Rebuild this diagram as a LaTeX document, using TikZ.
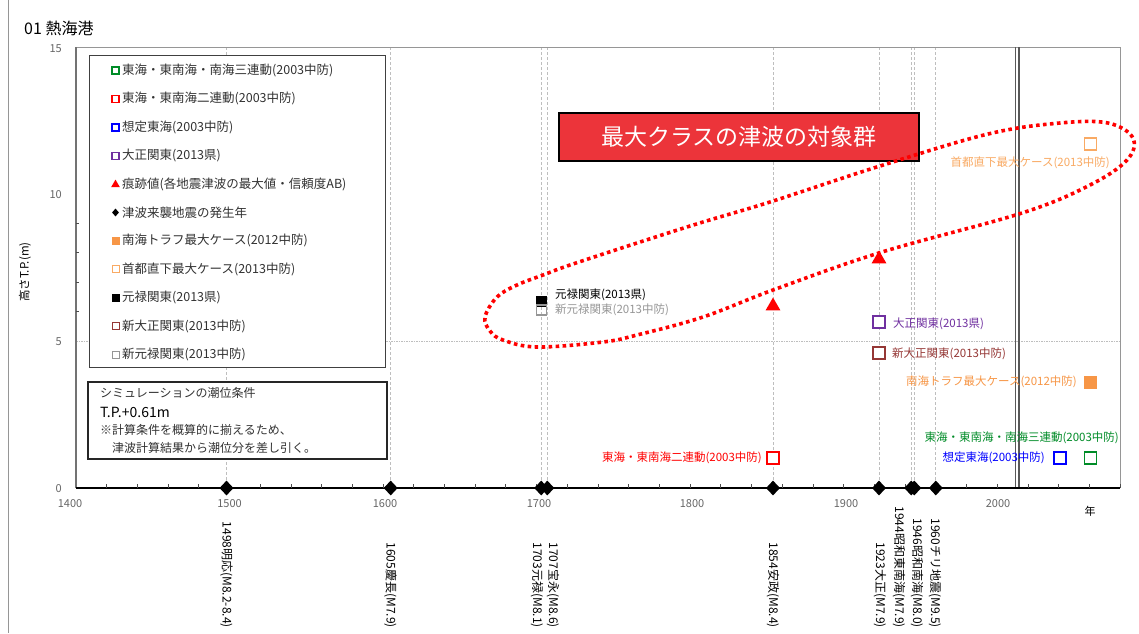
\documentclass[tikz,border=0pt]{standalone}
\usepackage{fontspec}
\setmainfont{Noto Sans CJK JP}
\usetikzlibrary{shapes.geometric}
\definecolor{cgreen}{RGB}{0,140,40}
\definecolor{cred}{RGB}{255,0,0}
\definecolor{cblue}{RGB}{0,0,255}
\definecolor{cpurple}{RGB}{112,48,160}
\definecolor{corange}{RGB}{247,150,70}
\definecolor{clorange}{RGB}{249,170,100}
\definecolor{cbrown}{RGB}{149,55,53}
\definecolor{cgray}{RGB}{150,150,150}
\definecolor{cgrid}{RGB}{190,190,190}
\definecolor{cframe}{RGB}{150,150,150}
\definecolor{cbanner}{RGB}{236,52,58}
\definecolor{ctext}{RGB}{50,50,50}
\newcommand{\fsz}[1]{\fontsize{#1}{#1}\selectfont}
\begin{document}
\begin{tikzpicture}[x=1pt,y=-1pt,
  sqmark/.style={draw, rectangle, minimum size=12pt, inner sep=0pt, line width=1.8pt, fill=white},
  fsqmark/.style={rectangle, minimum size=13pt, inner sep=0pt},
  lsq/.style={draw, rectangle, minimum size=7pt, inner sep=0pt, line width=1.4pt},
  lfsq/.style={rectangle, minimum size=8pt, inner sep=0pt},
  trimark/.style={regular polygon, regular polygon sides=3, fill=cred, inner sep=0pt, minimum size=17pt},
  ltri/.style={regular polygon, regular polygon sides=3, fill=cred, inner sep=0pt, minimum size=10pt},
  dia/.style={diamond, fill=black, inner sep=0pt, minimum width=14pt, minimum height=15pt},
  ldia/.style={diamond, fill=black, inner sep=0pt, minimum width=7pt, minimum height=8pt},
  legtext/.style={anchor=west, inner sep=0pt, font=\fsz{12.5}, text=ctext},
  lab/.style={inner sep=0pt, font=\fsz{11.5}},
  rot/.style={rotate=-90, anchor=east, inner sep=0pt, font=\fsz{12}},
  ticklab/.style={inner sep=0pt, font=\fsz{11}, text=black!60},
  gridv/.style={cgrid, line width=0.8pt, dash pattern=on 3pt off 2pt},
  banner/.style={draw=black, line width=2.5pt, fill=cbanner, text=white, font=\fsz{23},
     minimum width=360pt, minimum height=48pt, inner sep=0pt}
]
\useasboundingbox[fill=white] (0,0) rectangle (1139,633);

% page edge line
\draw[cgray, line width=0.8pt] (8,0) -- (8,633);

% title
\node[anchor=west, inner sep=0pt, font=\fsz{16}] (title) at (24,28) {01 熱海港};

% grid lines
\foreach \xx in {226.5,390.7,541.2,547.3,773,879,911.2,914.3,935.8}
  \draw[gridv] (\xx,47) -- (\xx,488);
\draw[cgrid, line width=0.8pt, dash pattern=on 1.5pt off 1pt] (76,341) -- (1120,341);

% frame
\draw[cframe, line width=1pt] (76,47) -- (1120,47) -- (1120,488);
\draw[black!55, line width=1.2pt] (76,47) -- (76,488);
% double line at 2012
\draw[black!65, line width=1.5pt] (1015.5,47) -- (1015.5,488);
\draw[black!65, line width=1.5pt] (1019,47) -- (1019,488);

% x axis
\draw[black, line width=1.5pt] (76,488) -- (1120,488);
\foreach \t in {1,...,34}
  \draw[black!70, line width=0.8pt] ({76+\t*30.706},488) -- ++(0,-4);
\foreach \v in {6,7,8,9}
  \draw[black!70, line width=0.8pt] (76,{488-29.4*\v}) -- ++(3,0);

% axis labels
\node[ticklab] (x1400) at (70,504) {1400};
\node[ticklab] (x1500) at (229.5,504) {1500};
\node[ticklab] (x1600) at (385,504) {1600};
\node[ticklab] (x1700) at (539,504) {1700};
\node[ticklab] (x1800) at (692,504) {1800};
\node[ticklab] (x1900) at (846,504) {1900};
\node[ticklab] (x2000) at (998,504) {2000};
\node[inner sep=0pt, font=\fsz{11}] (nen) at (1090,511) {年};
\node[ticklab, anchor=east] (y0) at (62,489) {0};
\node[ticklab, anchor=east] (y5) at (62,342) {5};
\node[ticklab, anchor=east] (y10) at (62,195) {10};
\node[ticklab, anchor=east] (y15) at (62,49) {15};
\node[rotate=90, inner sep=0pt, font=\fsz{11.5}] (ylab) at (25,272) {高さT.P.(m)};

% legend box
\draw[black!75, line width=1pt, fill=white] (89,55) rectangle (385,367);
\node[lsq, draw=cgreen] (lm1) at (115.5,70.5) {};
\node[legtext] (lt1) at (122,70.5) {東海・東南海・南海三連動(2003中防)};
\node[lsq, draw=cred] (lm2) at (115.5,98.9) {};
\node[legtext] (lt2) at (122,98.9) {東海・東南海二連動(2003中防)};
\node[lsq, draw=cblue] (lm3) at (115.5,127.3) {};
\node[legtext] (lt3) at (122,127.3) {想定東海(2003中防)};
\node[lsq, draw=cpurple] (lm4) at (115.5,155.7) {};
\node[legtext] (lt4) at (122,155.7) {大正関東(2013県)};
\node[ltri] (lm5) at (115.5,184.6) {};
\node[legtext] (lt5) at (122,184.1) {痕跡値(各地震津波の最大値・信頼度AB)};
\node[ldia] (lm6) at (115.5,212.5) {};
\node[legtext] (lt6) at (122,212.5) {津波来襲地震の発生年};
\node[lfsq, fill=corange] (lm7) at (115.5,240.9) {};
\node[legtext] (lt7) at (122,240.9) {南海トラフ最大ケース(2012中防)};
\node[lsq, draw=clorange, line width=1pt] (lm8) at (115.5,269.3) {};
\node[legtext] (lt8) at (122,269.3) {首都直下最大ケース(2013中防)};
\node[lfsq, fill=black] (lm9) at (115.5,297.7) {};
\node[legtext] (lt9) at (122,297.7) {元禄関東(2013県)};
\node[lsq, draw=cbrown, line width=1pt] (lm10) at (115.5,326.1) {};
\node[legtext] (lt10) at (122,326.1) {新大正関東(2013中防)};
\node[lsq, draw=cgray, line width=0.8pt] (lm11) at (115.5,354.5) {};
\node[legtext] (lt11) at (122,354.5) {新元禄関東(2013中防)};

% condition box
\draw[black!85, line width=1.6pt, fill=white] (88,382) rectangle (387,459);
\node[legtext, font=\fsz{12}] (c1) at (100,393) {シミュレーションの潮位条件};
\node[legtext, font=\fsz{14}, text=black] (c2) at (100,412) {T.P.+0.61m};
\node[legtext, font=\fsz{12}] (c3) at (100,430) {※計算条件を概算的に揃えるため、};
\node[legtext, font=\fsz{12}] (c4) at (100,448) {　津波計算結果から潮位分を差し引く。};

% earthquake year diamonds
\foreach \xx/\nm in {226.5/d1498,390.7/d1605,541.2/d1703,547.3/d1707,773/d1854,879/d1923,911.2/d1944,914.3/d1946,935.8/d1960}
  \node[dia] (\nm) at (\xx,488) {};

% rotated labels
\node[rot] (r1498) at (226.5,628) {1498明応(M8.2-8.4)};
\node[rot] (r1605) at (390.5,628) {1605慶長(M7.9)};
\node[rot] (r1703) at (537,628) {1703元禄(M8.1)};
\node[rot] (r1707) at (553,628) {1707宝永(M8.6)};
\node[rot] (r1854) at (773,628) {1854安政(M8.4)};
\node[rot] (r1923) at (880,628) {1923大正(M7.9)};
\node[rot] (r1944) at (899,628) {1944昭和東南海(M7.9)};
\node[rot] (r1946) at (917,628) {1946昭和南海(M8.0)};
\node[rot] (r1960) at (935,628) {1960チリ地震(M9.5)};

% data points
\node[fsqmark, fill=black, minimum size=11pt] (pgen) at (541.2,301) {};
\node[sqmark, draw=cgray, line width=1.2pt, minimum size=10pt, fill=none] (pshingen) at (541.2,310) {};
\node[lab, anchor=west, text=black] (lgen) at (555,295) {元禄関東(2013県)};
\node[lab, anchor=west, text=cgray] (lshingen) at (555,310) {新元禄関東(2013中防)};

\node[trimark] (t1854) at (773,306) {};
\node[trimark] (t1923) at (879,259) {};

\node[sqmark, draw=cred] (p2ren) at (773,458) {};
\node[lab, anchor=east, text=cred] (l2ren) at (762,458) {東海・東南海二連動(2003中防)};

\node[sqmark, draw=cpurple] (ptaisho) at (879,322) {};
\node[lab, anchor=west, text=cpurple] (ltaisho) at (893,324) {大正関東(2013県)};
\node[sqmark, draw=cbrown] (pshintaisho) at (879,353) {};
\node[lab, anchor=west, text=cbrown] (lshintaisho) at (892,354) {新大正関東(2013中防)};

\node[fsqmark, fill=corange] (pnankai) at (1090.5,382) {};
\node[lab, anchor=east, text=corange] (lnankai) at (1077,382) {南海トラフ最大ケース(2012中防)};

\node[sqmark, draw=clorange, line width=1.4pt] (pshuto) at (1090.5,144) {};
\node[lab, anchor=east, text=clorange] (lshuto) at (1110,163) {首都直下最大ケース(2013中防)};

\node[sqmark, draw=cblue] (ptokai) at (1060,458) {};
\node[lab, anchor=east, text=cblue] (ltokai) at (1045,458) {想定東海(2003中防)};
\node[sqmark, draw=cgreen] (p3ren) at (1090.5,458) {};
\node[lab, anchor=east, text=cgreen] (l3ren) at (1119,438) {東海・東南海・南海三連動(2003中防)};

% banner
\node[banner] (bn) at (739,137) {最大クラスの津波の対象群};

% dotted oval
\draw[cred, line width=3.6pt, dash pattern=on 3.6pt off 3.4pt]
  plot[smooth cycle, tension=0.6] coordinates {
    (485,317) (497,297) (517,285) (543,275) (570,265) (637,243) (703,222) (770,202)
    (880,166) (988,134) (1060,123) (1108,123) (1133,138) (1127,160) (1090,185)
    (1022,213) (882,252) (773,290) (703,317) (637,335) (603,342) (537,347) (503,340) (490,331)
  };
\end{tikzpicture}
\end{document}
